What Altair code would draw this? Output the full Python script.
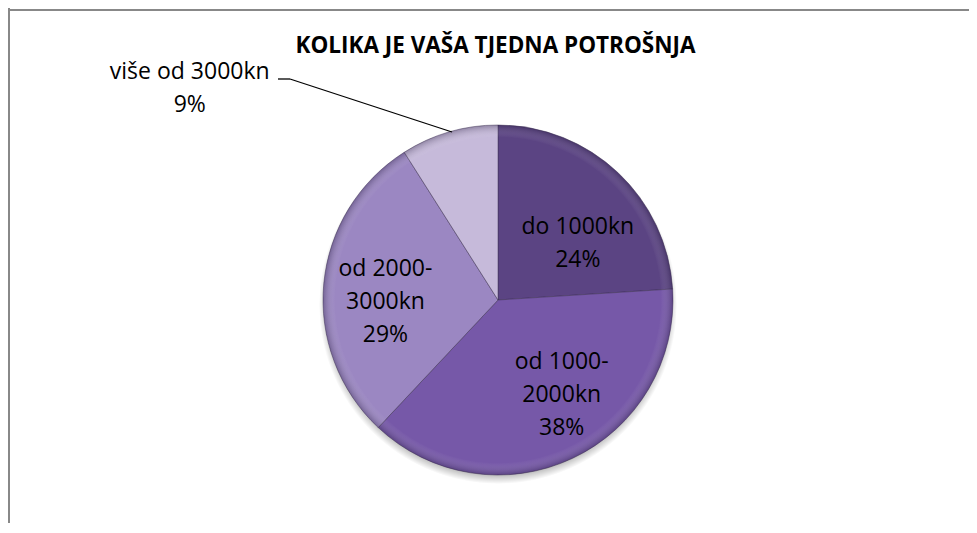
import altair as alt
import pandas as pd

# ---- data ----
categories = ["do 1000kn", "od 1000-2000kn", "od 2000-3000kn", "više od 3000kn"]
percents = [24, 38, 29, 9]
label_texts = ["do 1000kn\n24%", "od 1000-\n2000kn\n38%", "od 2000-\n3000kn\n29%", "više od 3000kn\n9%"]
colors = ["#5b4483", "#7658a8", "#9b87c2", "#c6bada"]
title_text = "KOLIKA JE VAŠA TJEDNA POTROŠNJA"

df = pd.DataFrame({"cat": categories, "pct": percents, "label": label_texts,
                   "idx": list(range(len(categories)))})
total_df = pd.DataFrame({"tot": [sum(percents)]})

W, H = 961, 515
CX, CY, R = 490, 292, 175
FONT = "Open Sans"
LH = 33

base = alt.Chart(df)
whole = alt.Chart(total_df)

shadow = whole.mark_arc(
    radius=R + 4,
    fill=alt.RadialGradient(
        gradient="radial", x1=0.5, y1=0.5, x2=0.5, y2=0.5, r1=0, r2=0.5,
        stops=[alt.GradientStop(color="rgba(0,0,0,0.35)", offset=0),
               alt.GradientStop(color="rgba(0,0,0,0.30)", offset=0.94),
               alt.GradientStop(color="rgba(0,0,0,0)", offset=1)]),
).encode(theta=alt.Theta("tot:Q", stack=True), x=alt.value(CX), y=alt.value(CY + 5))

pie = base.mark_arc(radius=R, stroke="#3d3152", strokeWidth=0.8, strokeOpacity=0.6).encode(
    theta=alt.Theta("pct:Q", stack=True),
    color=alt.Color("cat:N", scale=alt.Scale(domain=categories, range=colors), legend=None),
    order=alt.Order("idx:Q"),
    x=alt.value(CX),
    y=alt.value(CY),
)

bevel = whole.mark_arc(
    radius=R,
    fill=alt.RadialGradient(
        gradient="radial", x1=0.5, y1=0.5, x2=0.5, y2=0.5, r1=0, r2=0.5,
        stops=[alt.GradientStop(color="rgba(255,255,255,0)", offset=0),
               alt.GradientStop(color="rgba(255,255,255,0)", offset=0.93),
               alt.GradientStop(color="rgba(25,15,45,0.30)", offset=1)]),
).encode(theta=alt.Theta("tot:Q", stack=True), x=alt.value(CX), y=alt.value(CY))

# label nudges (style offsets around the slice mid-angle anchor)
nudges = {
    "do 1000kn": (8, 4),
    "od 1000-2000kn": (19, -33),
    "od 2000-3000kn": (-8, -21),
    "više od 3000kn": (-279, -127),
}

label_layers = []
for cat in categories:
    dx, dy = nudges[cat]
    label_layers.append(
        base.transform_window(cum="sum(pct)", sort=[alt.SortField("idx")], frame=[None, 0])
        .transform_calculate(mid="datum.cum - datum.pct / 2")
        .transform_filter(alt.datum.cat == cat)
        .mark_text(radius=105, dx=dx, dy=dy, lineBreak="\n", font=FONT, fontSize=23,
                   lineHeight=LH, color="black", align="center", baseline="middle")
        .encode(
            theta=alt.Theta("mid:Q", scale=alt.Scale(domain=[0, 100]), stack=None),
            text="label:N",
            x=alt.value(CX),
            y=alt.value(CY),
        )
    )

one = alt.Chart(pd.DataFrame({"k": [0]}))

title = one.mark_text(text=title_text, font=FONT, fontSize=22.5, fontWeight="bold",
                      color="black", align="center", baseline="middle").encode(
    x=alt.value(487.5), y=alt.value(38))

leader1 = one.mark_rule(color="black", strokeWidth=1.3).encode(
    x=alt.value(270), x2=alt.value(282), y=alt.value(71), y2=alt.value(71))
leader2 = one.mark_rule(color="black", strokeWidth=1.3).encode(
    x=alt.value(282), x2=alt.value(444), y=alt.value(71), y2=alt.value(124))

frame_top = one.mark_rule(color="#888888", strokeWidth=2).encode(
    x=alt.value(0), x2=alt.value(W), y=alt.value(2), y2=alt.value(2))
frame_left = one.mark_rule(color="#888888", strokeWidth=2).encode(
    x=alt.value(1), x2=alt.value(1), y=alt.value(0), y2=alt.value(H))

chart = alt.layer(frame_top, frame_left, shadow, pie, bevel, *label_layers, title,
                  leader1, leader2).resolve_scale(theta="independent").properties(
    width=W, height=H, padding=0, autosize="none", background="white"
).configure_view(stroke=None)

chart.save("out.html", embed_options={"renderer": "svg", "actions": False})
